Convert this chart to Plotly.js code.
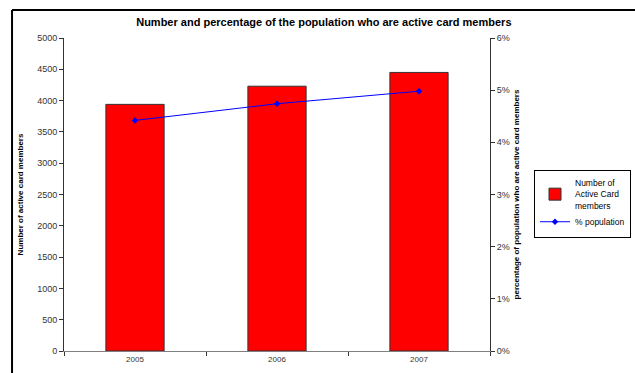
<!DOCTYPE html>
<html><head><meta charset="utf-8">
<script src="https://cdn.plot.ly/plotly-3.0.1.min.js"></script>
<style>html,body{margin:0;padding:0;background:#fff}#c{width:635px;height:373px}</style>
</head><body><div id="c"></div>
<script>
const years = ['2005', '2006', '2007'];
const activeMembers = [3940, 4230, 4450];
const pctPopulation = [0.0442, 0.0474, 0.0498];
const leftTicks = [0, 500, 1000, 1500, 2000, 2500, 3000, 3500, 4000, 4500, 5000];
const rightTicks = [0, 0.01, 0.02, 0.03, 0.04, 0.05, 0.06];

const traces = [
  {type: 'bar', x: years, y: activeMembers, name: 'Number of<br>Active Card<br>members',
   marker: {color: '#FF0000', line: {color: '#333', width: 1}}},
  {type: 'scatter', mode: 'lines+markers', x: years, y: pctPopulation, yaxis: 'y2',
   name: '% population', line: {color: '#0000FF', width: 1},
   marker: {symbol: 'diamond', size: 5, color: '#0000FF'}}
];
const axFont = {family: 'Arial, Liberation Sans', size: 9, color: '#333'};
const layout = {
  width: 635, height: 373,
  margin: {l: 64, r: 145, t: 38, b: 22, autoexpand: false},
  paper_bgcolor: '#fff', plot_bgcolor: '#fff',
  font: {family: 'Arial, Liberation Sans', color: '#000'},
  title: {text: '<b>Number and percentage of the population who are active card members</b>',
          font: {size: 11, family: 'Arial, Liberation Sans', color: '#000'},
          x: 0.51, xanchor: 'center', y: 0.94, yanchor: 'middle'},
  bargap: 0.59,
  xaxis: {type: 'category', showline: true, linecolor: '#808080', linewidth: 1, automargin: false,
          ticks: 'outside', tickson: 'boundaries', ticklen: 4, tickcolor: '#333',
          tickfont: {family: 'Arial, Liberation Sans', size: 8, color: '#333'}, showgrid: false},
  yaxis: {range: [0, 5000], tickvals: leftTicks, showline: true, linecolor: '#333', linewidth: 1,
          ticks: 'outside', ticklen: 4, tickcolor: '#333', tickfont: axFont, showgrid: false,
          zeroline: false, automargin: false,
          title: {text: '<b>Number of active card members</b>', standoff: 12,
                  font: {size: 8, family: 'Arial, Liberation Sans', color: '#000'}}},
  yaxis2: {range: [0, 0.06], tickvals: rightTicks, tickformat: '.0%', overlaying: 'y', side: 'right',
           showline: true, linecolor: '#333', linewidth: 1, ticks: 'outside', ticklen: 4, automargin: false,
           tickcolor: '#333', tickfont: axFont, showgrid: false, zeroline: false,
           title: {text: '<b>percentage of population who are active card members</b>', standoff: 4,
                   font: {size: 8, family: 'Arial, Liberation Sans', color: '#000'}}},
  showlegend: true,
  legend: {x: 1.331, y: 0.578, xanchor: 'right', yanchor: 'top', bordercolor: '#000', borderwidth: 1,
           bgcolor: '#fff', font: {size: 8.5, family: 'Arial, Liberation Sans', color: '#000'},
           tracegroupgap: 0, itemwidth: 30},
  shapes: [
    {type: 'line', xref: 'paper', yref: 'paper', x0: -0.122, x1: 1.4, y0: 1.0895, y1: 1.0895,
     line: {color: '#000', width: 2}},
    {type: 'line', xref: 'paper', yref: 'paper', x0: -0.122, x1: -0.122, y0: 1.0895, y1: -0.1,
     line: {color: '#000', width: 2}}
  ]
};
Plotly.newPlot('c', traces, layout, {displayModeBar: false, staticPlot: true});
</script></body></html>
